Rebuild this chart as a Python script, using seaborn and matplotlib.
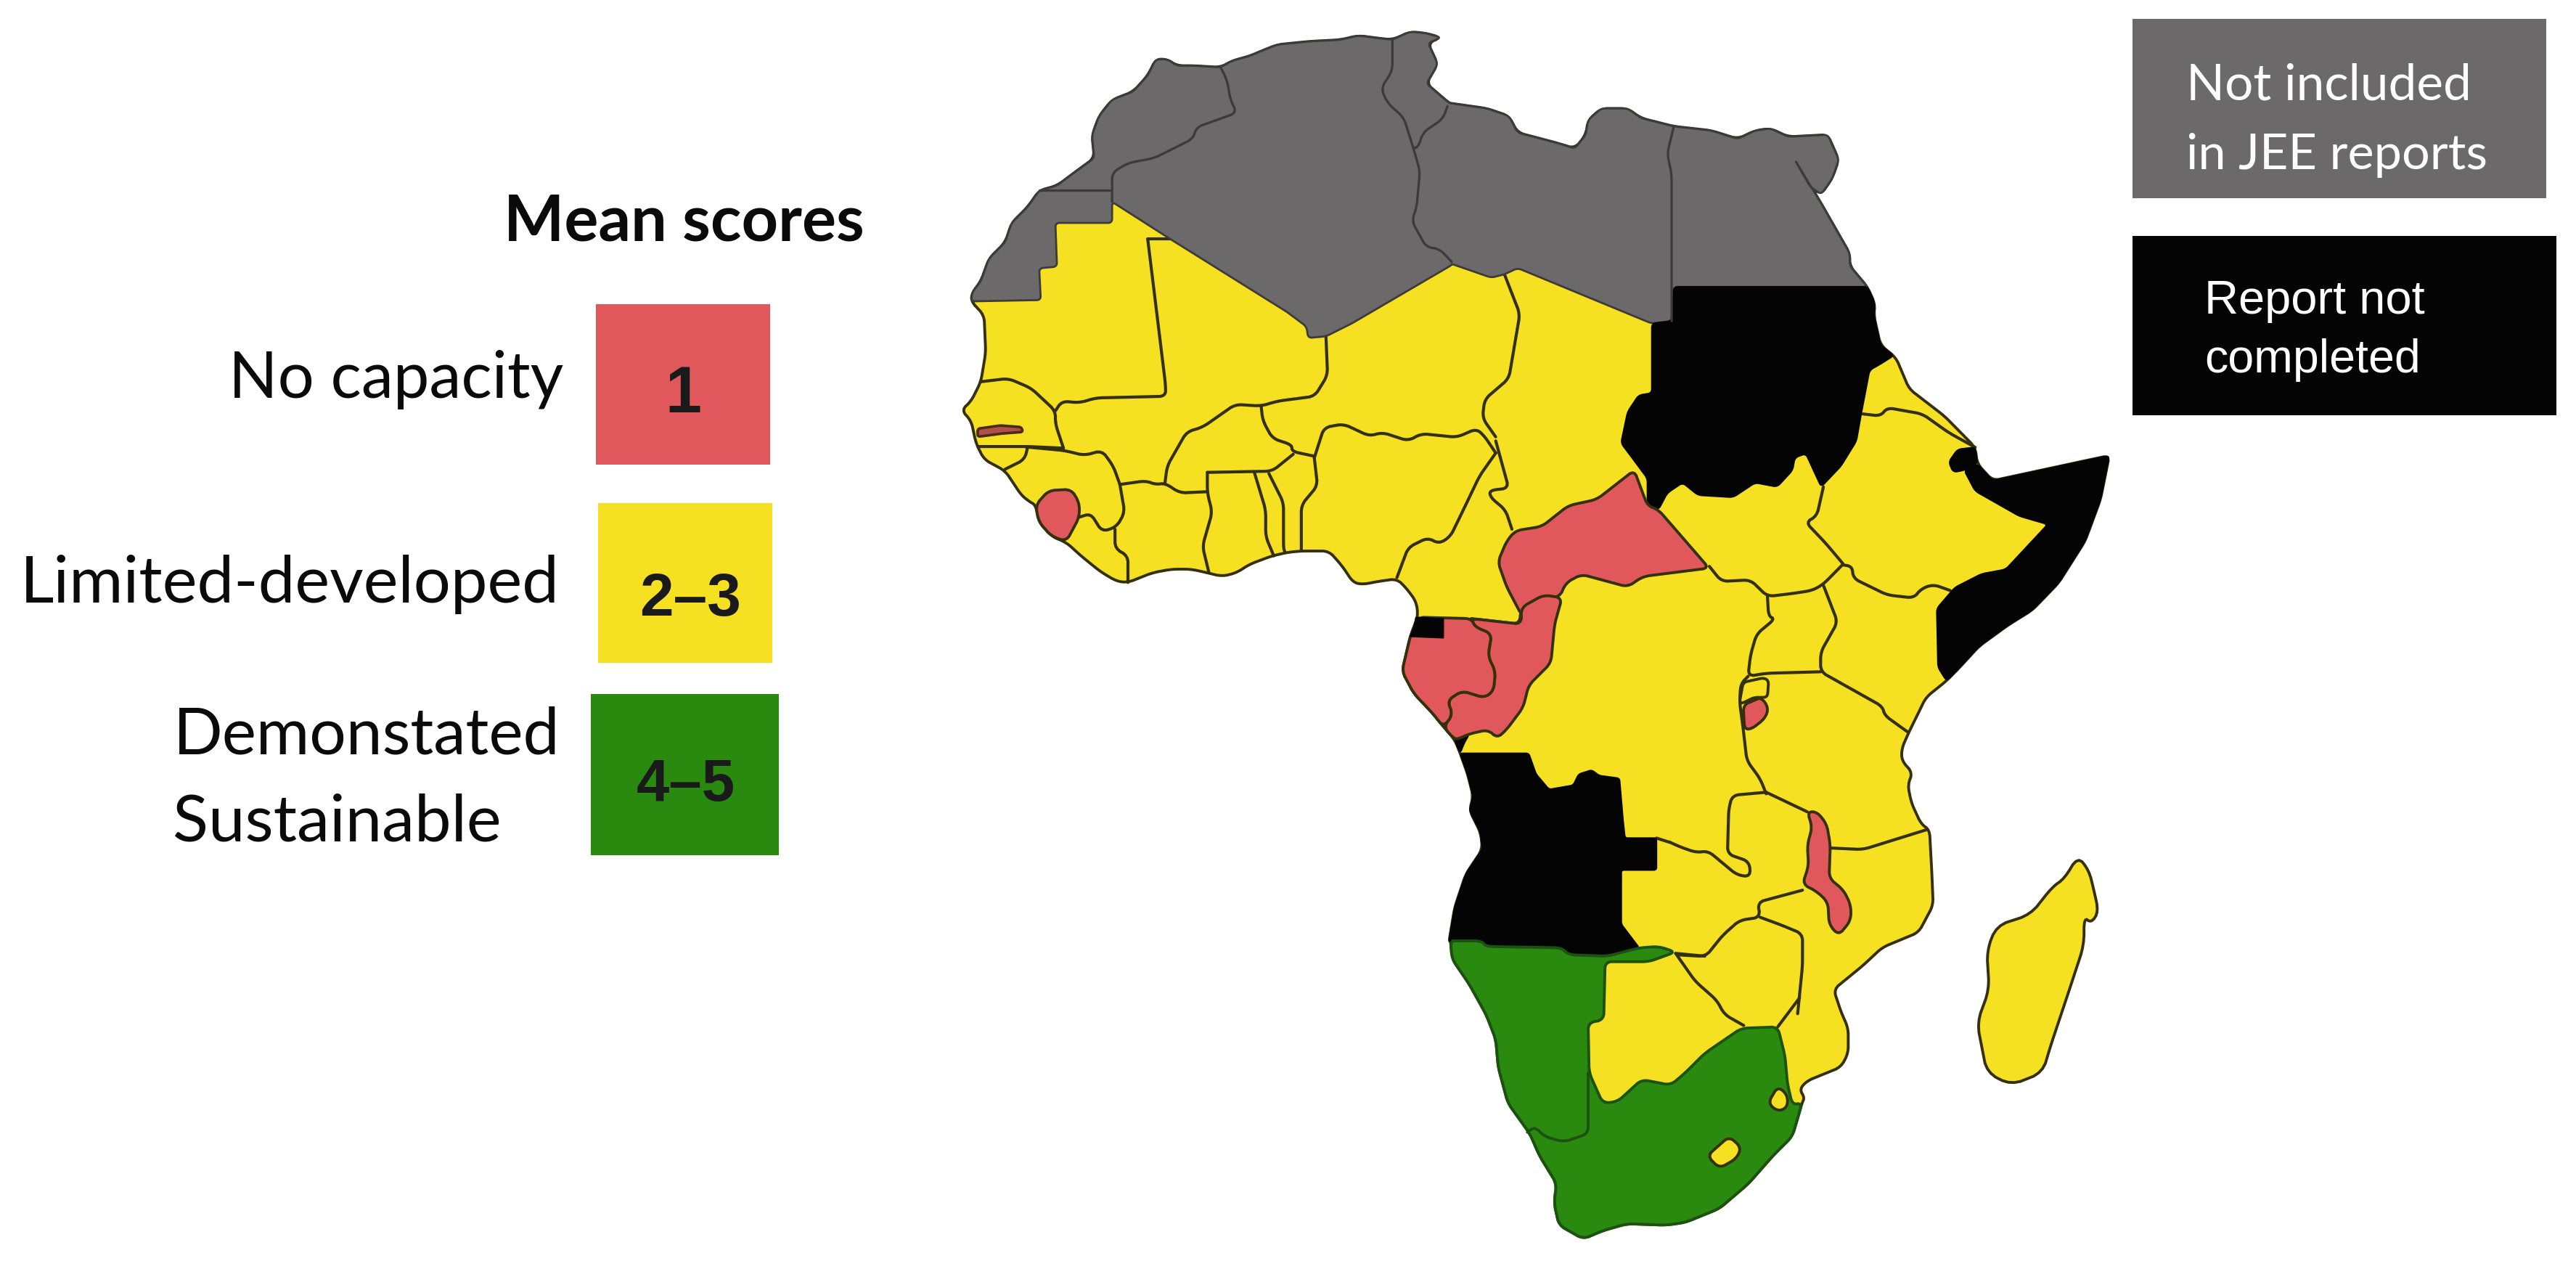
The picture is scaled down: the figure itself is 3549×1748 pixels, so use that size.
"""
Africa JEE mean score map, traced from the published figure
"""

import matplotlib.pyplot as plt
import pandas as pd
import seaborn as sns

# crops the outlines were read from: left, top, x scale, y scale
C1 = (1300, 0, 2.24, 2.24)
C2 = (2000, 0, 1.65, 1.742)
C3 = (1800, 700, 1.96, 2.613)
C4 = (1900, 1150, 1.493, 2.618)
C7 = (1400, 560, 2.24, 3.0)
C8 = (2300, 750, 3.0, 2.41)

# legend
SCORE_COLORS = ['#E0585B', '#F5E022', '#2A8A10']
GREY = '#6B696A'
BLACK = '#040404'

# coast, anticlockwise from the Morocco/Algeria border
COAST_NW = [(855, 210), (770, 205), (720, 205), (690, 185), (655, 185), (630, 235), (585, 285), (520, 310),
            (480, 360), (458, 420), (465, 490), (410, 530), (350, 575), (295, 590), (260, 640), (210, 690),
            (190, 750), (140, 800), (115, 870), (88, 905), (85, 932)]
COAST_W = [(125, 975), (130, 1090), (115, 1180), (85, 1240), (55, 1268), (85, 1300), (100, 1370), (125, 1420),
           (190, 1455), (240, 1530)]
COAST_GULF = [(40, 395), (60, 410), (70, 480), (110, 540), (155, 565), (200, 620), (260, 685), (310, 725),
              (345, 730), (420, 690), (480, 675), (540, 675), (590, 690), (635, 705), (680, 690), (720, 655),
              (790, 620), (840, 605), (880, 600), (965, 600), (1005, 660), (1040, 730), (1070, 738), (1120, 725),
              (1175, 715), (1205, 755), (1235, 810), (1240, 870)]
COAST_CENTRE = [(290, 430), (280, 465), (258, 590), (290, 670), (340, 740), (370, 790), (400, 835), (415, 885)]
COAST_ANGOLA = [(435, 960), (450, 1040), (440, 1090), (470, 1170), (475, 1230), (430, 1320), (400, 1440), (385, 1560)]
COAST_SOUTH = [(147, 385), (150, 450), (185, 540), (220, 650), (240, 740), (245, 840), (265, 970), (310, 1080),
               (330, 1160), (365, 1260), (360, 1330), (370, 1410), (420, 1460), (460, 1430), (510, 1405), (590, 1410),
               (630, 1400), (700, 1350), (760, 1260), (810, 1160), (850, 1090), (870, 970)]
COAST_SE = [(875, 950), (865, 920), (880, 890), (950, 840), (965, 790), (965, 700), (950, 640), (935, 560)]
COAST_EAST = [(800, 1400), (880, 1340), (1030, 1290), (1090, 1200), (1085, 1100), (1075, 950), (1040, 930),
              (1000, 860), (985, 800), (1005, 760), (960, 720), (960, 680), (990, 625), (1030, 560), (1060, 510),
              (1145, 455)]
COAST_SOMALIA_S = [(1200, 410), (1280, 340), (1400, 270), (1500, 220)]
COAST_HORN = [(1380, 1400), (1440, 1300), (1475, 1200), (1495, 1095), (1450, 1105), (1340, 1130), (1230, 1155),
              (1195, 1115), (1190, 1075)]
COAST_RED_SEA = [(1120, 1000), (1040, 935), (1010, 860), (975, 830), (960, 760), (962, 730), (945, 690)]
COAST_EGYPT = [(905, 640), (905, 610), (840, 490), (780, 385), (815, 450), (840, 468), (865, 430), (880, 385),
               (855, 325), (765, 330), (725, 310), (690, 315), (650, 335), (590, 315), (505, 305), (430, 285),
               (400, 262), (340, 262), (310, 290), (305, 325), (280, 358), (240, 345), (150, 320), (130, 280),
               (80, 262), (0, 250)]
COAST_MAGHREB = [(1560, 320), (1490, 260), (1525, 200), (1495, 135), (1535, 118), (1490, 105), (1440, 100),
                 (1385, 125), (1340, 120), (1280, 112), (1225, 125), (1130, 130), (1030, 140), (980, 160),
                 (945, 175), (890, 190)]

# grey block southern edge
GREY_SOUTH_W = [(300, 928), (295, 830), (350, 825), (345, 690), (520, 690), (520, 625), (700, 740), (1060, 965),
                (1120, 1010), (1125, 1045), (1180, 1040), (1260, 1000), (1568, 820)]
GREY_SOUTH_E = [(0, 635), (90, 668), (120, 660), (150, 645), (455, 778), (500, 772), (505, 690)]

# not completed
SUDAN = [(505, 690), (945, 690), (962, 730), (960, 760), (975, 830), (1005, 855), (975, 875), (950, 890), (930, 1000),
         (920, 1060), (885, 1120), (840, 1170), (805, 1090), (780, 1100), (775, 1130), (740, 1170), (690, 1160),
         (640, 1195), (560, 1190), (525, 1160), (490, 1185), (470, 1225), (445, 1215), (445, 1150), (410, 1100),
         (385, 1065), (400, 990), (425, 950), (455, 945), (455, 778), (500, 772)]
DJIBOUTI = [(1130, 1110), (1150, 1080), (1190, 1075), (1195, 1115), (1165, 1130), (1140, 1135)]
SOMALIA_INNER_S = [(1145, 455), (1110, 410), (1105, 215), (1180, 145), (1290, 100), (1390, 85)]
SOMALIA_INNER_N = [(1355, 1260), (1290, 1240), (1190, 1180), (1165, 1130)]
EQ_GUINEA = [(295, 395), (370, 400), (370, 470), (280, 465), (290, 430)]
CABINDA = [(420, 805), (440, 815), (425, 850), (415, 885), (400, 835)]
ANGOLA_INLAND_N = [(415, 885), (600, 885), (620, 960), (655, 1015), (720, 1000), (735, 960), (770, 945), (790, 965),
                   (845, 975), (855, 1130), (860, 1190), (945, 1190), (945, 1305), (850, 1305), (850, 1500)]
ANGOLA_INLAND_S = [(535, 410), (470, 440), (390, 435), (375, 410), (220, 405), (210, 385), (160, 385), (147, 385)]

# no capacity
CAR = [(415, 1130), (445, 1215), (470, 1225), (585, 1365), (510, 1375), (435, 1385), (400, 1410), (295, 1380),
       (260, 1400), (245, 1435), (200, 1435), (160, 1480), (125, 1410), (105, 1350), (125, 1300), (145, 1275),
       (205, 1265), (265, 1215), (330, 1200)]
CONGO = [(640, 315), (690, 325), (670, 420), (660, 560), (600, 640), (585, 720), (540, 800), (515, 830), (490, 800),
         (440, 815), (415, 830), (400, 835), (370, 790), (395, 745), (380, 695), (420, 660), (480, 685), (505, 660),
         (510, 590), (490, 535), (500, 455), (455, 430), (445, 400), (580, 420), (580, 360)]
GABON = [(300, 395), (445, 400), (455, 430), (500, 455), (490, 535), (510, 590), (505, 660), (480, 685), (420, 660),
         (380, 695), (395, 745), (370, 790), (340, 740), (290, 670), (258, 590), (280, 465)]
SIERRA_LEONE = [(60, 410), (100, 350), (170, 345), (195, 400), (195, 460), (155, 560), (110, 540), (70, 480)]
GAMBIA = [(105, 1325), (175, 1315), (240, 1320), (245, 1335), (180, 1340), (105, 1350)]
BURUNDI = [(305, 535), (350, 520), (380, 510), (410, 545), (395, 580), (340, 615), (310, 615)]
MALAWI = [(570, 890), (610, 890), (650, 930), (665, 1000), (660, 1110), (720, 1150), (750, 1200), (750, 1250),
          (700, 1300), (660, 1265), (655, 1190), (610, 1155), (550, 1130), (575, 1070), (570, 1000), (590, 940)]

# demonstrated, from the Angola border round to the Mozambique border
GREEN_INLAND = [(160, 385), (210, 385), (220, 405), (375, 410), (390, 435), (470, 440), (535, 410), (575, 405),
                (610, 425), (555, 460), (465, 460), (462, 670), (430, 680), (432, 860), (460, 970), (490, 965),
                (540, 885), (600, 905), (630, 860), (670, 790), (745, 700), (820, 695), (835, 800), (840, 900),
                (850, 975)]
NAMIBIA_SA = [(430, 860), (430, 1080), (380, 1110), (340, 1090), (320, 1055), (305, 1075)]

LESOTHO = [(720, 1090), (745, 1130), (735, 1170), (700, 1205), (675, 1160)]
ESWATINI = [(820, 910), (840, 940), (840, 985), (820, 1000), (800, 970)]
RWANDA = [(290, 525), (305, 460), (390, 445), (410, 455), (405, 510), (350, 510), (300, 530)]
MADAGASCAR = [(1437, 80), (1460, 130), (1470, 200), (1480, 280), (1465, 320), (1450, 300), (1450, 400), (1420, 560),
              (1380, 770), (1365, 860), (1300, 905), (1250, 860), (1230, 680), (1255, 560), (1250, 420), (1270, 330),
              (1340, 290), (1385, 190), (1410, 160)]

# borders between the yellow countries
YELLOW_BORDERS = [
    (C1, [(630, 740), (700, 740)]),
    (C1, [(630, 740), (685, 1190), (685, 1225), (470, 1230), (420, 1245), (365, 1240), (345, 1270)]),
    (C1, [(115, 1180), (200, 1170), (270, 1200), (345, 1270), (345, 1310), (370, 1385)]),
    (C1, [(105, 1380), (260, 1380), (370, 1385)]),
    (C1, [(260, 1380), (250, 1420), (190, 1450)]),
    (C7, [(30, 170), (150, 185), (210, 205), (265, 185), (300, 250), (320, 325)]),
    (C7, [(320, 325), (400, 310), (430, 325), (460, 320), (505, 360), (590, 355)]),
    (C1, [(683, 1494), (690, 1440), (750, 1335), (800, 1320), (900, 1250), (980, 1255), (1030, 1240), (1145, 1225),
          (1185, 1160), (1180, 1040)]),
    (C1, [(980, 1255), (985, 1300), (1015, 1355), (1075, 1375), (1075, 1395), (1145, 1410)]),
    (C7, [(590, 275), (790, 270), (855, 200)]),
    (C7, [(590, 275), (590, 360), (605, 440), (575, 580), (595, 690)]),
    (C7, [(735, 275), (770, 430), (770, 540), (795, 620)]),
    (C7, [(780, 280), (825, 400), (825, 590), (830, 605)]),
    (C7, [(920, 215), (930, 330), (880, 410), (880, 600)]),
    (C7, [(195, 460), (230, 445), (265, 520), (310, 500), (335, 440), (320, 325)]),
    (C7, [(305, 510), (305, 590), (345, 620), (345, 730)]),
    (C7, [(920, 215), (950, 90), (1010, 75), (1090, 125), (1130, 110), (1210, 145), (1250, 115), (1360, 130),
          (1420, 95), (1445, 125), (1480, 195)]),
    (C2, [(120, 660), (155, 755), (130, 910), (75, 960), (70, 1005), (100, 1050)]),
    (C7, [(1480, 195), (1430, 290), (1380, 430), (1340, 540), (1305, 570), (1270, 545), (1210, 585), (1175, 710)]),
    (C7, [(1480, 145), (1520, 340), (1460, 350), (1465, 380), (1510, 430), (1530, 510)]),
    (C3, [(445, 400), (575, 420), (580, 360)]),
    (C8, [(165, 75), (215, 125), (335, 120), (405, 175), (510, 165), (590, 155), (635, 135), (715, 70)]),
    (C8, [(405, 175), (410, 240), (435, 250), (360, 300), (335, 370), (325, 440), (400, 430), (625, 425)]),
    (C8, [(635, 135), (695, 260), (625, 360), (625, 425), (880, 540), (890, 570), (985, 625)]),
    (C8, [(715, 70), (755, 75), (760, 115), (900, 170), (1010, 180), (1040, 150), (1090, 135), (1160, 155)]),
    (C2, [(845, 1170), (830, 1240), (805, 1255), (850, 1305), (890, 1355)]),
    (C2, [(935, 995), (975, 1000), (990, 980), (1070, 995), (1130, 1040), (1190, 1075)]),
    (C8, [(325, 440), (295, 465), (290, 525), (305, 615), (320, 720), (375, 780), (400, 830)]),
    (C8, [(400, 825), (260, 835), (245, 880), (240, 1030), (330, 1055), (335, 1105), (280, 1100), (160, 1020),
          (110, 1025), (40, 1005), (0, 990)]),
    (C3, [(945, 1190), (980, 1205)]),
    (C8, [(400, 825), (570, 890)]),
    (C8, [(665, 1010), (800, 1015), (900, 990), (1060, 950)]),
    (C8, [(550, 1150), (365, 1190), (375, 1240), (290, 1250), (220, 1300), (150, 1370), (40, 1365)]),
    (C8, [(375, 1240), (460, 1265), (550, 1295), (550, 1400), (530, 1560)]),
    (C4, [(610, 430), (650, 530), (695, 600), (710, 650), (750, 690)]),
    (C4, [(610, 430), (670, 440)]),
    (C4, [(865, 590), (820, 695)]),
]

# borders inside the grey block
GREY_BORDERS = [
    (C1, [(855, 210), (875, 250), (885, 310), (905, 350), (850, 370), (780, 395), (770, 430), (700, 465), (650, 490),
          (570, 505), (520, 535), (520, 625)]),
    (C1, [(295, 590), (515, 590)]),
    (C1, [(1385, 125), (1385, 220), (1350, 275), (1370, 320), (1420, 365), (1450, 460), (1470, 530), (1460, 640),
          (1445, 685), (1490, 765), (1530, 770), (1568, 810)]),
    (C1, [(1555, 330), (1540, 370), (1480, 410), (1465, 455), (1450, 460)]),
    (C2, [(505, 305), (490, 370), (500, 420), (500, 772)]),
]

# text: string, left, baseline, width in pixels
LEFT_TEXT = [('No capacity', 315, 548, 461), ('Limited-developed', 28, 830, 742),
             ('Demonstated', 239, 1039, 533), ('Sustainable', 238, 1159, 452)]
BOX_NUMBERS = [('1', 916, 568, 50), ('2–3', 881, 848, 140), ('4–5', 877, 1103, 136)]
GREY_TEXT = [('Not included', 3012, 138, 393), ('in JEE reports', 3012, 233, 414)]
BLACK_TEXT = [('Report not', 3037, 432, 304), ('completed', 3037, 513, 298)]


def to_px(crop, pts):
    left, top, sx, sy = crop
    return [(left + x / sx, top + y / sy) for x, y in pts]


def soften(pts, closed, cut=5.0, passes=2):
    # corner cutting, the source map is a blurry raster with no hard corners
    for _ in range(passes):
        out = []
        n = len(pts)
        for i in range(n):
            if not closed and i in (0, n - 1):
                out.append(pts[i])
                continue
            x, y = pts[i]
            for px, py in (pts[i - 1], pts[(i + 1) % n]):
                d = ((px - x) ** 2 + (py - y) ** 2) ** 0.5
                t = min(cut, 0.25 * d) / d if d else 0
                out.append((x + (px - x) * t, y + (py - y) * t))
        pts = out
        cut = cut / 2
    return pts


def fill(ax, pts, color, edge, lw=2.8, z=2, cut=5.0):
    pts = soften(pts, True, cut=cut)
    ax.fill([p[0] for p in pts], [p[1] for p in pts], facecolor=color, edgecolor=edge, linewidth=lw,
            joinstyle='round', zorder=z)


def draw_borders(ax, borders, color, lw, z):
    rows = []
    for i, (crop, pts) in enumerate(borders):
        for x, y in soften(to_px(crop, pts), False):
            rows.append({'border': i, 'x': x, 'y': y})
    sns.lineplot(data=pd.DataFrame(rows), x='x', y='y', units='border', estimator=None, sort=False,
                 color=color, linewidth=lw, ax=ax, zorder=z, legend=False)


def fit_text(ax, s, left, base, width, **kw):
    t = ax.text(left, base, s, ha='left', va='baseline', fontsize=50, zorder=9, **kw)
    w = t.get_window_extent(ax.figure.canvas.get_renderer()).width
    t.set_fontsize(50 * width / w)


sns.set_theme(style='white')
red, yellow, green = sns.color_palette(SCORE_COLORS)

fig, ax = plt.subplots(figsize=(35.49, 17.49), dpi=100)
fig.subplots_adjust(0, 0, 1, 1)
fig.patch.set_facecolor('white')

outline = '#35300C'

# whole mainland first, coloured blocks go on top
mainland = (to_px(C1, COAST_NW + COAST_W) + to_px(C7, COAST_GULF) + to_px(C3, COAST_CENTRE + COAST_ANGOLA)
            + to_px(C4, COAST_SOUTH + COAST_SE) + to_px(C8, COAST_EAST + COAST_SOMALIA_S)
            + to_px(C2, COAST_HORN + COAST_RED_SEA + COAST_EGYPT) + to_px(C1, COAST_MAGHREB))
fill(ax, mainland, yellow, outline, z=2)
fill(ax, to_px(C4, MADAGASCAR), yellow, outline, z=2, cut=9.0)
draw_borders(ax, YELLOW_BORDERS, outline, 3.0, 3)

grey_block = (to_px(C2, [(945, 690)] + COAST_EGYPT) + to_px(C1, COAST_MAGHREB + COAST_NW + GREY_SOUTH_W)
              + to_px(C2, GREY_SOUTH_E))
fill(ax, grey_block, GREY, '#3C3A3B', lw=2.0, z=4, cut=3.0)
draw_borders(ax, GREY_BORDERS, '#3C3A3B', 2.4, 5)

somalia = (to_px(C8, SOMALIA_INNER_S) + to_px(C2, SOMALIA_INNER_N) + to_px(C2, COAST_HORN[:-1][::-1])
           + to_px(C8, COAST_SOMALIA_S[::-1]))
angola = (to_px(C3, [(415, 885)] + COAST_ANGOLA) + to_px(C4, ANGOLA_INLAND_S[::-1])
          + to_px(C3, ANGOLA_INLAND_N[::-1][:-1]))

for crop, shape in [(C2, SUDAN), (C2, DJIBOUTI), (C3, CABINDA)]:
    fill(ax, to_px(crop, shape), BLACK, BLACK, lw=1.5, z=4, cut=3.0)
fill(ax, somalia, BLACK, BLACK, lw=1.5, z=4, cut=3.0)
fill(ax, angola, BLACK, BLACK, lw=1.5, z=4, cut=2.0)

for crop, shape in [(C2, CAR), (C3, CONGO), (C3, GABON), (C7, SIERRA_LEONE), (C8, BURUNDI), (C8, MALAWI)]:
    fill(ax, to_px(crop, shape), red, outline, lw=2.8, z=5)
fill(ax, to_px(C1, GAMBIA), '#B0504A', '#4A2A10', lw=2.6, z=5, cut=2.0)
fill(ax, to_px(C3, EQ_GUINEA), BLACK, BLACK, lw=1.0, z=6, cut=0.5)
fill(ax, to_px(C8, RWANDA), yellow, outline, lw=2.8, z=6, cut=3.0)

green_block = to_px(C4, COAST_SOUTH + GREEN_INLAND[::-1])
fill(ax, green_block, green, '#1B5210', lw=2.8, z=5)
draw_borders(ax, [(C4, NAMIBIA_SA)], '#1B5210', 2.8, 6)
fill(ax, to_px(C4, LESOTHO), yellow, outline, lw=2.8, z=6)
fill(ax, to_px(C4, ESWATINI), yellow, outline, lw=2.8, z=6)

# legend swatches and boxes
ax.fill_between([821, 1061], 420, 641, color=red, lw=0, zorder=7)
ax.fill_between([824, 1064], 694, 914, color=yellow, lw=0, zorder=7)
ax.fill_between([814, 1073], 957, 1179, color=green, lw=0, zorder=7)
ax.fill_between([2938, 3508], 27, 274, color=GREY, lw=0, zorder=7)
ax.fill_between([2938, 3522], 326, 573, color=BLACK, lw=0, zorder=7)

ax.set_xlim(0, 3549)
ax.set_ylim(1749, 0)
ax.axis('off')
fig.canvas.draw()

fit_text(ax, 'Mean scores', 694, 332, 498, family='Lato', fontweight='bold', color='#0A0A0A')
for s, left, base, width in LEFT_TEXT:
    fit_text(ax, s, left, base, width, family='Lato', color='#0A0A0A')
for s, left, base, width in BOX_NUMBERS:
    fit_text(ax, s, left, base, width, family='Liberation Sans', fontweight='bold', color='#1A1A1A')
for s, left, base, width in GREY_TEXT:
    fit_text(ax, s, left, base, width, family='Lato', color='white')
for s, left, base, width in BLACK_TEXT:
    fit_text(ax, s, left, base, width, family='Liberation Sans', color='white')

fig.savefig('out.png', dpi=100, facecolor='white')
